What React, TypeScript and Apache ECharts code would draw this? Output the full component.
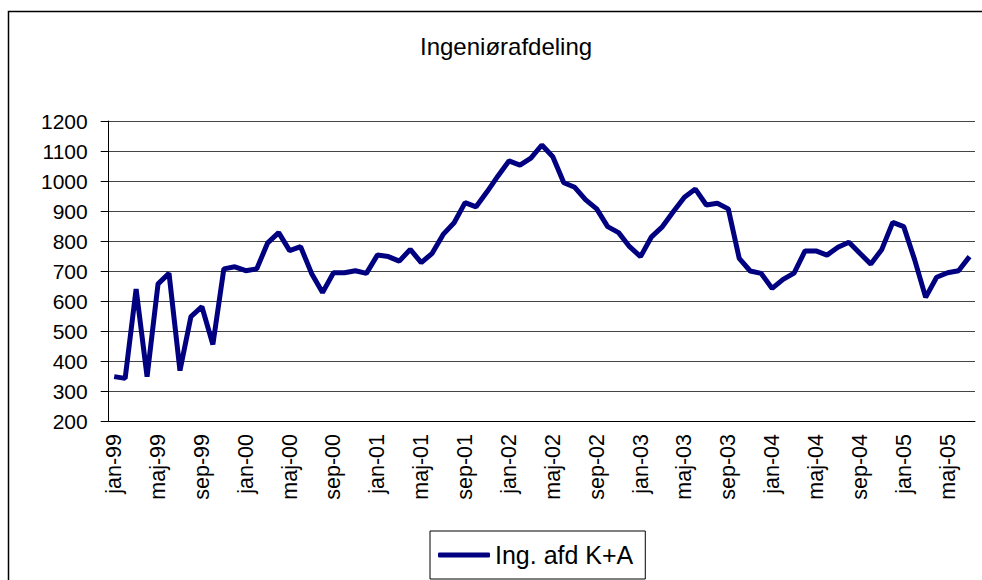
import React, { useEffect, useRef } from "react";
import * as echarts from "echarts";

const monthNames = ["jan", "feb", "mar", "apr", "maj", "jun", "jul", "aug", "sep", "okt", "nov", "dec"];
const years = ["99", "00", "01", "02", "03", "04", "05"];
const categories: string[] = [];
years.forEach((y) => monthNames.forEach((m) => categories.push(`${m}-${y}`)));
const months = categories.slice(0, 79); // jan-99 .. jul-05

const seriesName = "Ing. afd K+A";
const values = [
  348, 342, 640, 348, 657, 692, 368, 548, 581, 455, 707, 714,
  701, 707, 794, 828, 768, 781, 692, 628, 694, 694, 701, 692,
  753, 748, 733, 772, 728, 759, 822, 861, 928, 914, 964, 1017,
  1067, 1053, 1076, 1120, 1081, 994, 979, 937, 907, 848, 828, 781,
  748, 814, 848, 898, 946, 973, 920, 926, 907, 742, 700, 692,
  642, 672, 693, 767, 767, 753, 779, 796, 759, 723, 772, 862,
  848, 737, 612, 679, 694, 701, 748,
];
const titleText = "Ingeniørafdeling";
const font = "'Liberation Sans', Arial, sans-serif";

export default function App() {
  const ref = useRef<HTMLDivElement>(null);
  useEffect(() => {
    document.body.style.margin = "0";
    const chart = echarts.init(ref.current!, null, { renderer: "svg" });
    chart.setOption({
      animation: false,
      backgroundColor: "#fff",
      title: {
        text: titleText,
        left: 415,
        top: 29,
        textStyle: { fontFamily: font, fontSize: 24, fontWeight: "normal", color: "#000" },
      },
      graphic: [
        {
          type: "rect",
          shape: { x: 8.5, y: 11.5, width: 1000, height: 600 },
          style: { fill: "none", stroke: "#000", lineWidth: 1.5 },
          silent: true,
        },
      ],
      legend: {
        left: 430,
        top: 531,
        padding: [9, 12, 9, 8],
        borderColor: "#000",
        borderWidth: 1,
        borderRadius: 0,
        icon: "roundRect",
        itemWidth: 52,
        itemHeight: 5,
        itemGap: 6,
        textStyle: { fontFamily: font, fontSize: 25, color: "#000", lineHeight: 30 },
        data: [seriesName],
      },
      grid: { left: 108.7, right: 7, top: 121, bottom: 159 },
      xAxis: {
        type: "category",
        data: months,
        boundaryGap: true,
        axisLine: { lineStyle: { color: "#000", width: 1 } },
        axisTick: { interval: 3, length: 5, lineStyle: { color: "#000" } },
        axisLabel: {
          interval: 3,
          rotate: 90,
          margin: 13,
          fontFamily: font,
          fontSize: 21.5,
          color: "#000",
        },
        splitLine: { show: false },
      },
      yAxis: {
        type: "value",
        min: 200,
        max: 1200,
        interval: 100,
        axisLine: { show: true, lineStyle: { color: "#000", width: 1 } },
        axisTick: { show: true, length: 8, lineStyle: { color: "#000" } },
        axisLabel: {
          fontFamily: font,
          fontSize: 21,
          color: "#000",
          margin: 21,
          formatter: (v: number) => String(v),
        },
        splitLine: { lineStyle: { color: "#444", width: 1 } },
      },
      series: [
        {
          name: seriesName,
          type: "line",
          data: values,
          showSymbol: false,
          symbol: "none",
          color: "#000080",
          lineStyle: { color: "#000080", width: 5 },
        },
      ],
    });
    return () => chart.dispose();
  }, []);
  return <div ref={ref} style={{ width: 982, height: 580 }} />;
}
